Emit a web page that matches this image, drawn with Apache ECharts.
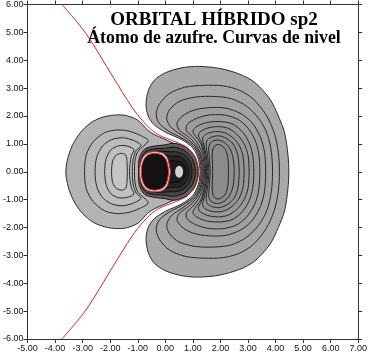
<!DOCTYPE html>
<html>
<head>
<meta charset="utf-8">
<script src="https://cdn.jsdelivr.net/npm/echarts@6/dist/echarts.min.js"></script>
<style>
html, body { margin: 0; padding: 0; background: #fff; }
#chart { width: 370px; height: 353px; }
</style>
</head>
<body>
<div id="chart"></div>
<script>
// contour lines, upper half only (y >= 0); the plot is symmetric about y = 0
// negative lobe (left)
var negLevel0 = [[-3.61,0],[-3.52,0.55],[-3.32,1.05],[-3.0,1.5],[-2.6,1.82],[-2.1,2.0],[-1.5,2.03],[-1.0,1.85],[-0.65,1.5],[-0.4,1.33],[-0.1,1.2],[0.3,1.02],[0.7,0.82],[0.98,0.55],[1.1,0.25],[1.12,0]];
var negLevel1 = [[-2.93,0],[-2.87,0.6],[-2.62,1.07],[-2.2,1.4],[-1.75,1.5],[-1.3,1.45],[-0.9,1.3],[-0.62,1.12],[-0.78,0.93],[-1.0,0.72],[-1.1,0.4],[-1.12,0]];
var negLevel2 = [[-2.55,0],[-2.49,0.52],[-2.28,0.92],[-1.95,1.15],[-1.55,1.22],[-1.15,1.12],[-0.88,0.95],[-1.06,0.76],[-1.17,0.43],[-1.2,0]];
var negLevel3 = [[-2.2,0],[-2.15,0.45],[-1.98,0.78],[-1.7,0.93],[-1.38,0.92],[-1.14,0.8],[-1.23,0.58],[-1.28,0.3],[-1.3,0]];
var negLevel4 = [[-1.95,0],[-1.92,0.35],[-1.8,0.58],[-1.6,0.66],[-1.44,0.6],[-1.39,0.35],[-1.38,0]];

// positive lobe (right)
var posLevel0 = [[4.48,0],[4.45,0.6],[4.33,1.39],[4.1,2.0],[3.8,2.6],[3.25,3.2],[2.7,3.5],[1.96,3.71],[1.2,3.78],[0.6,3.73],[0.0,3.55],[-0.4,3.28],[-0.62,2.9],[-0.7,2.4],[-0.62,2.0],[-0.42,1.7],[0.0,1.42],[0.6,1.15],[1.0,0.85],[1.2,0.45],[1.26,0]];
var posLevel1 = [[4.14,0],[4.1,0.7],[3.95,1.4],[3.65,2.05],[3.2,2.6],[2.7,2.92],[2.1,3.08],[1.4,3.1],[0.7,3.03],[0.14,2.8],[-0.2,2.45],[-0.33,2.1],[-0.24,1.76],[0.12,1.46],[0.65,1.18],[1.05,0.88],[1.25,0.45],[1.3,0]];
var posLevel2 = [[3.89,0],[3.85,0.7],[3.7,1.35],[3.4,1.9],[2.95,2.35],[2.4,2.62],[1.8,2.7],[1.1,2.68],[0.5,2.52],[0.15,2.22],[0.05,1.9],[0.22,1.58],[0.72,1.23],[1.1,0.9],[1.3,0.45],[1.34,0]];
var posLevel3 = [[3.64,0],[3.6,0.7],[3.45,1.25],[3.15,1.75],[2.75,2.08],[2.2,2.28],[1.6,2.3],[1.0,2.2],[0.6,1.98],[0.42,1.72],[0.52,1.48],[0.84,1.25],[1.15,0.92],[1.34,0.45],[1.38,0]];
var posLevel4 = [[3.43,0],[3.39,0.65],[3.25,1.15],[2.97,1.6],[2.6,1.9],[2.1,2.04],[1.55,2.03],[1.1,1.9],[0.8,1.7],[0.76,1.48],[0.98,1.26],[1.22,0.95],[1.38,0.47],[1.42,0]];
var posLevel5 = [[3.21,0],[3.17,0.6],[3.03,1.07],[2.78,1.45],[2.42,1.72],[1.98,1.8],[1.52,1.77],[1.15,1.63],[1.0,1.46],[1.1,1.27],[1.29,1.0],[1.42,0.5],[1.46,0]];
var posLevel6 = [[3.04,0],[3.0,0.6],[2.86,1.0],[2.62,1.32],[2.3,1.55],[1.92,1.62],[1.54,1.57],[1.27,1.44],[1.2,1.28],[1.32,1.05],[1.45,0.55],[1.5,0]];
var posLevel7 = [[2.86,0],[2.82,0.55],[2.68,0.95],[2.45,1.22],[2.15,1.4],[1.82,1.44],[1.52,1.37],[1.36,1.23],[1.38,1.03],[1.48,0.6],[1.54,0]];
var posLevel8 = [[2.68,0],[2.64,0.55],[2.52,0.9],[2.3,1.15],[2.0,1.28],[1.72,1.26],[1.52,1.14],[1.48,0.95],[1.53,0.6],[1.58,0]];
var posLevel9 = [[2.5,0],[2.46,0.5],[2.35,0.82],[2.15,1.05],[1.9,1.14],[1.68,1.08],[1.58,0.9],[1.59,0.55],[1.63,0]];
var posLevel10 = [[2.29,0],[2.27,0.5],[2.18,0.8],[2.0,0.96],[1.83,0.96],[1.72,0.8],[1.7,0.5],[1.72,0]];

// packed levels around the nucleus
var coreLevel0 = [[1.19,0],[1.17,0.22],[1.06,0.56],[0.78,0.86],[0.35,1.02],[-0.05,0.96],[-0.4,0.92],[-0.74,0.82],[-0.94,0.5],[-0.97,0]];
var coreLevel1 = [[1.09,0],[1.07,0.2],[0.97,0.48],[0.72,0.74],[0.35,0.88],[-0.05,0.84],[-0.4,0.82],[-0.7,0.74],[-0.88,0.45],[-0.92,0]];
var coreLevel2 = [[0.97,0],[0.93,0.28],[0.77,0.54],[0.48,0.7],[0.1,0.72],[-0.3,0.74],[-0.64,0.66],[-0.82,0.4],[-0.86,0]];
var coreLevel3 = [[0.86,0],[0.83,0.18],[0.72,0.4],[0.52,0.54],[0.2,0.56],[-0.2,0.62],[-0.56,0.58],[-0.76,0.36],[-0.8,0]];
var coreLevel4 = [[0.74,0],[0.72,0.14],[0.64,0.28],[0.5,0.37],[0.3,0.39],[0.1,0.42],[-0.3,0.46],[-0.68,0.3],[-0.72,0]];

// nodal lines (red)
var nodeOuter = [[-3.75,6.0],[-2.88,4.96],[-1.9,3.4],[-1.2,2.3],[-0.8,1.8],[-0.5,1.5],[-0.2,1.3],[0.25,1.12],[0.75,0.9],[1.04,0.6],[1.18,0.25],[1.21,0]];
var nodeRingA = [[0.18,0],[0.14,0.25],[0.07,0.5],[-0.11,0.67],[-0.39,0.72],[-0.64,0.67],[-0.82,0.5],[-0.91,0.25],[-0.93,0]];
var nodeRingB = [[0.12,0],[0.09,0.23],[0.02,0.46],[-0.14,0.61],[-0.39,0.66],[-0.62,0.61],[-0.77,0.46],[-0.85,0.23],[-0.87,0]];

var nucleus = [[0.5, 0]];

var negLevels = [negLevel0, negLevel1, negLevel2, negLevel3, negLevel4];
var negFills = ['#b3b3b3', '#b8b8b8', '#bcbcbc', '#c0c0c0', '#c4c4c4'];
var posLevels = [posLevel0, posLevel1, posLevel2, posLevel3, posLevel4, posLevel5, posLevel6, posLevel7, posLevel8, posLevel9, posLevel10];
var posFills = ['#a9a9a9', '#a6a6a6', '#a3a3a3', '#a0a0a0', '#9d9d9d', '#9a9a9a', '#979797', '#949494', '#919191', '#8e8e8e', '#8b8b8b'];
var coreLevels = [coreLevel0, coreLevel1, coreLevel2, coreLevel3, coreLevel4];
var coreFills = ['#606060', '#464646', '#333333', '#242424', '#1a1a1a'];

// upper half -> closed curve
function closeCurve(upper) {
    var pts = upper.slice();
    for (var i = upper.length - 2; i > 0; i--) {
        pts.push([upper[i][0], -upper[i][1]]);
    }
    return pts;
}
// upper half -> open curve running down through the axis
function openCurve(upper) {
    var pts = upper.slice();
    for (var i = upper.length - 2; i >= 0; i--) {
        pts.push([upper[i][0], -upper[i][1]]);
    }
    return pts;
}

var shapes = [];
negLevels.forEach(function (c, i) {
    shapes.push({pts: closeCurve(c), closed: true, fill: negFills[i], stroke: '#1a1a1a', w: 0.9});
});
posLevels.forEach(function (c, i) {
    shapes.push({pts: closeCurve(c), closed: true, fill: posFills[i], stroke: '#1a1a1a', w: 0.9});
});
coreLevels.forEach(function (c, i) {
    shapes.push({pts: closeCurve(c), closed: true, fill: coreFills[i], stroke: '#0a0a0a', w: 0.9});
});
shapes.push({pts: closeCurve(nodeRingA), closed: true, fill: '#f4f4f4', stroke: '#e03030', w: 1});
shapes.push({pts: closeCurve(nodeRingB), closed: true, fill: '#121212', stroke: '#e03030', w: 1});
shapes.push({pts: openCurve(nodeOuter), closed: false, fill: 'none', stroke: '#e02020', w: 1});

var myChart = echarts.init(document.getElementById('chart'));

function fmt(v) { return v.toFixed(2); }

var axisCommon = {
    type: 'value',
    interval: 1,
    axisLine: {show: true, onZero: false, lineStyle: {color: '#333', width: 1}},
    axisTick: {show: true, inside: false, length: 4, lineStyle: {color: '#333'}},
    splitLine: {show: false}
};

option = {
    animation: false,
    title: {
        text: '{a|ORBITAL HÍBRIDO sp2}\n{b|Átomo de azufre. Curvas de nivel}',
        left: 209,
        top: 6,
        textAlign: 'center',
        textStyle: {
            fontFamily: 'Liberation Serif',
            fontWeight: 'bold',
            color: '#000',
            rich: {
                a: {fontFamily: 'Liberation Serif', fontWeight: 'bold', fontSize: 19, lineHeight: 18, color: '#000'},
                b: {fontFamily: 'Liberation Serif', fontWeight: 'bold', fontSize: 17.8, lineHeight: 18, color: '#000'}
            }
        }
    },
    grid: {left: 23, top: 4, width: 336, height: 336},
    xAxis: [
        echarts.util.merge({
            min: -5, max: 7, position: 'bottom',
            axisLabel: {formatter: fmt, fontSize: 9, margin: 5, color: '#111', fontFamily: 'Liberation Sans', showMinLabel: true, showMaxLabel: true}
        }, axisCommon),
        echarts.util.merge({min: -5, max: 7, position: 'top', axisLabel: {show: false}}, axisCommon)
    ],
    yAxis: [
        echarts.util.merge({
            min: -6, max: 6, position: 'left',
            axisLabel: {formatter: fmt, fontSize: 9, margin: 4, color: '#111', fontFamily: 'Liberation Sans', showMinLabel: true, showMaxLabel: true}
        }, axisCommon),
        echarts.util.merge({min: -6, max: 6, position: 'right', axisLabel: {show: false}}, axisCommon)
    ],
    series: [
        {
            type: 'custom',
            xAxisIndex: 0,
            yAxisIndex: 0,
            clip: true,
            z: 2,
            data: shapes.map(function () { return [0, 0]; }),
            renderItem: function (params, api) {
                var s = shapes[params.dataIndex];
                var pts = s.pts.map(function (p) { return api.coord(p); });
                return {
                    type: s.closed ? 'polygon' : 'polyline',
                    shape: {points: pts, smooth: 0.3},
                    style: {fill: s.fill, stroke: s.stroke, lineWidth: s.w}
                };
            }
        },
        {
            type: 'scatter',
            z: 3,
            symbol: 'circle',
            symbolSize: [8, 12],
            itemStyle: {color: '#fff'},
            data: nucleus
        }
    ]
};

myChart.setOption(option);
</script>
</body>
</html>
